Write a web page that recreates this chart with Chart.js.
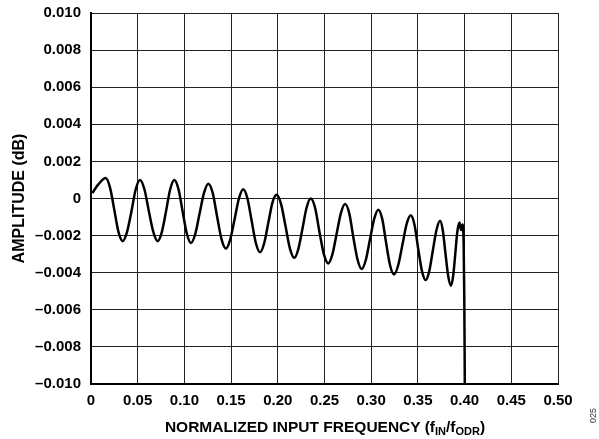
<!DOCTYPE html>
<html>
<head>
<meta charset="utf-8">
<script src="https://cdn.jsdelivr.net/npm/chart.js@4/dist/chart.umd.min.js"></script>
<style>
  body { margin: 0; background: #fff; }
  #wrap { position: relative; width: 599px; height: 439px; font-family: "Liberation Sans", Arial, sans-serif; }
  #xTitle { position: absolute; left: 0; width: 650px; top: 418px; text-align: center; font-weight: bold; font-size: 15.5px; color: #000; white-space: nowrap; }
  #xTitle sub { font-size: 11px; vertical-align: -3px; line-height: 0; }
  #code { position: absolute; left: 588px; top: 423px; font-size: 9px; color: #333; transform: rotate(-90deg); transform-origin: left top; }
</style>
</head>
<body>
<div id="wrap">
  <canvas id="chart" width="599" height="439"></canvas>
  <div id="xTitle">NORMALIZED INPUT FREQUENCY (f<sub>IN</sub>/f<sub>ODR</sub>)</div>
  <div id="code">025</div>
</div>
<script>
// normalized frequency (fIN/fODR), one row per half ripple
const freq = [
  0.0014, 0.0085,
  0.0157, 0.0203, 0.0249, 0.0294,
  0.0340, 0.0386, 0.0433, 0.0479,
  0.0525, 0.0572, 0.0620, 0.0667,
  0.0714, 0.0759, 0.0803, 0.0848,
  0.0892, 0.0937, 0.0981, 0.1026,
  0.1070, 0.1117, 0.1163, 0.1210,
  0.1256, 0.1303, 0.1351, 0.1398,
  0.1445, 0.1491, 0.1538, 0.1584,
  0.1630, 0.1675, 0.1720, 0.1765,
  0.1810, 0.1855, 0.1899, 0.1944,
  0.1988, 0.2035, 0.2083, 0.2130,
  0.2177, 0.2221, 0.2265, 0.2308,
  0.2352, 0.2399, 0.2446, 0.2493,
  0.2540, 0.2585, 0.2630, 0.2675,
  0.2720, 0.2765, 0.2809, 0.2854,
  0.2898, 0.2943, 0.2987, 0.3032,
  0.3076, 0.3118, 0.3160, 0.3202,
  0.3244, 0.3289, 0.3334, 0.3378,
  0.3423, 0.3463, 0.3503, 0.3543,
  0.3583, 0.3622, 0.3660, 0.3699,
  0.3737, 0.3766, 0.3796, 0.3825,
  0.3854, 0.3877, 0.3900, 0.3922,
  0.3945, 0.3962, 0.3978, 0.3990,
  0.3996, 0.4000, 0.4003
];
// amplitude (dB)
const amplitude = [
  0.0003, 0.0008,
  0.0011, 0.0006, -0.0006, -0.0018,
  -0.0023, -0.0018, -0.0007, 0.0005,
  0.0010, 0.0005, -0.0007, -0.0018,
  -0.0023, -0.0018, -0.0007, 0.0005,
  0.0010, 0.0005, -0.0007, -0.0019,
  -0.0024, -0.0019, -0.0008, 0.0003,
  0.0008, 0.0003, -0.0010, -0.0022,
  -0.0027, -0.0022, -0.0011, 0.0000,
  0.0005, 0.0000, -0.0012, -0.0024,
  -0.0029, -0.0024, -0.0013, -0.0002,
  0.0002, -0.0003, -0.0015, -0.0027,
  -0.0032, -0.0027, -0.0016, -0.0005,
  0.0000, -0.0005, -0.0018, -0.0030,
  -0.0035, -0.0030, -0.0019, -0.0008,
  -0.0003, -0.0008, -0.0021, -0.0033,
  -0.0038, -0.0033, -0.0022, -0.0011,
  -0.0006, -0.0011, -0.0024, -0.0036,
  -0.0041, -0.0036, -0.0025, -0.0014,
  -0.0009, -0.0014, -0.0027, -0.0039,
  -0.0044, -0.0039, -0.0028, -0.0017,
  -0.0012, -0.0017, -0.0030, -0.0042,
  -0.0047, -0.0042, -0.0030, -0.0018,
  -0.0013, -0.0017, -0.0014, -0.0025,
  -0.0050, -0.0080, -0.0110
];

let points = [];
for (let i = 0; i < freq.length; i++) {
  points.push({ x: freq[i], y: amplitude[i] });
}

function dash(v) {
  let r = Math.round(v * 1000) / 1000;
  if (r === 0) return '0';
  return (r < 0 ? '\u2013' : '') + Math.abs(r).toFixed(3);
}

const tickFont = { family: 'Liberation Sans', size: 15, weight: 'bold' };

new Chart(document.getElementById('chart'), {
  type: 'line',
  data: {
    datasets: [{
      data: points,
      borderColor: '#000',
      borderWidth: 2.5,
      pointRadius: 0,
      cubicInterpolationMode: 'monotone',
      fill: false
    }]
  },
  options: {
    responsive: false,
    animation: false,
    plugins: { legend: { display: false }, tooltip: { enabled: false } },
    layout: { padding: { top: 13, right: 41, left: 0, bottom: 0 } },
    scales: {
      x: {
        type: 'linear',
        min: 0,
        max: 0.5,
        afterFit: s => { s.height = 55; s.paddingLeft = 0; s.paddingRight = 0; },
        ticks: {
          stepSize: 0.05,
          color: '#000',
          font: tickFont,
          padding: 8,
          maxRotation: 0,
          callback: v => (Math.abs(v) < 1e-9 ? '0' : v.toFixed(2))
        },
        grid: { color: '#222', lineWidth: 1, drawTicks: false },
        border: { color: '#000', width: 2 }
      },
      y: {
        min: -0.01,
        max: 0.01,
        afterFit: s => { s.width = 91; s.paddingTop = 0; s.paddingBottom = 0; },
        ticks: {
          stepSize: 0.002,
          color: '#000',
          font: tickFont,
          padding: 10,
          callback: v => dash(v)
        },
        title: {
          display: true,
          text: 'AMPLITUDE (dB)',
          color: '#000',
          font: { family: 'Liberation Sans', size: 16, weight: 'bold' },
          padding: { top: 10, bottom: 0 }
        },
        grid: { color: '#222', lineWidth: 1, drawTicks: false },
        border: { color: '#000', width: 2 }
      }
    }
  }
});
</script>
</body>
</html>
